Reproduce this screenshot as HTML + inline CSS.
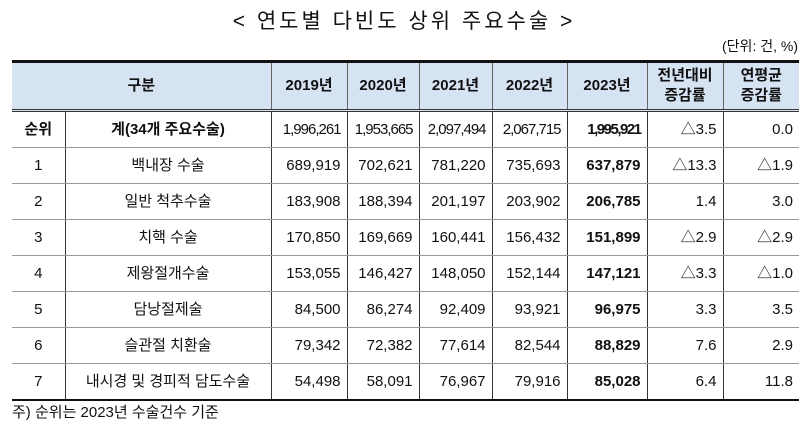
<!DOCTYPE html>
<html><head><meta charset="utf-8">
<style>
body{margin:0;width:808px;height:426px;background:#fff;font-family:"Liberation Sans","Noto Sans CJK KR",sans-serif;color:#111;position:relative;overflow:hidden}
.t{position:absolute;white-space:nowrap}
table{position:absolute;left:12px;top:60px;border-collapse:collapse;table-layout:fixed;width:787px}
td,th{font-size:15px;padding:0 6px;border-left:1px solid #333;border-bottom:1px solid #999;white-space:nowrap}
tr td:first-child,tr th:first-child{border-left:none}
th{background:#d6e3f3;font-weight:bold;height:46px;text-align:center;line-height:20px;border-top:3px solid #111;border-bottom:3px double #333;border-left:1px solid #666}
td{height:35px;line-height:35px;text-align:right}
td.c{text-align:center}
td.b{font-weight:bold}
tr:last-child td{border-bottom:2px solid #111}
</style></head><body>
<div class="t" style="left:0;width:808px;text-align:center;top:5px;font-size:21px;letter-spacing:3px">&lt; 연도별 다빈도 상위 주요수술 &gt;</div>
<div class="t" style="right:10px;top:36px;font-size:14px">(단위: 건, %)</div>
<table>
<colgroup><col style="width:53px"><col style="width:206px"><col style="width:76px"><col style="width:72px"><col style="width:73px"><col style="width:75px"><col style="width:80px"><col style="width:76px"><col style="width:76px"></colgroup>
<tr><th colspan="2">구분</th><th>2019년</th><th>2020년</th><th>2021년</th><th>2022년</th><th>2023년</th><th>전년대비<br>증감률</th><th>연평균<br>증감률</th></tr>
<tr><td class="c b">순위</td><td class="c b">계(34개 주요수술)</td><td style="letter-spacing:-1px">1,996,261</td><td style="letter-spacing:-1px">1,953,665</td><td style="letter-spacing:-1px">2,097,494</td><td style="letter-spacing:-1px">2,067,715</td><td class="b" style="letter-spacing:-1.5px">1,995,921</td><td>△3.5</td><td>0.0</td></tr>
<tr><td class="c">1</td><td class="c">백내장 수술</td><td>689,919</td><td>702,621</td><td>781,220</td><td>735,693</td><td class="b">637,879</td><td>△13.3</td><td>△1.9</td></tr>
<tr><td class="c">2</td><td class="c">일반 척추수술</td><td>183,908</td><td>188,394</td><td>201,197</td><td>203,902</td><td class="b">206,785</td><td>1.4</td><td>3.0</td></tr>
<tr><td class="c">3</td><td class="c">치핵 수술</td><td>170,850</td><td>169,669</td><td>160,441</td><td>156,432</td><td class="b">151,899</td><td>△2.9</td><td>△2.9</td></tr>
<tr><td class="c">4</td><td class="c">제왕절개수술</td><td>153,055</td><td>146,427</td><td>148,050</td><td>152,144</td><td class="b">147,121</td><td>△3.3</td><td>△1.0</td></tr>
<tr><td class="c">5</td><td class="c">담낭절제술</td><td>84,500</td><td>86,274</td><td>92,409</td><td>93,921</td><td class="b">96,975</td><td>3.3</td><td>3.5</td></tr>
<tr><td class="c">6</td><td class="c">슬관절 치환술</td><td>79,342</td><td>72,382</td><td>77,614</td><td>82,544</td><td class="b">88,829</td><td>7.6</td><td>2.9</td></tr>
<tr><td class="c">7</td><td class="c">내시경 및 경피적 담도수술</td><td>54,498</td><td>58,091</td><td>76,967</td><td>79,916</td><td class="b">85,028</td><td>6.4</td><td>11.8</td></tr>
</table>
<div class="t" style="left:12px;top:401px;font-size:15px">주) 순위는 2023년 수술건수 기준</div>
</body></html>
